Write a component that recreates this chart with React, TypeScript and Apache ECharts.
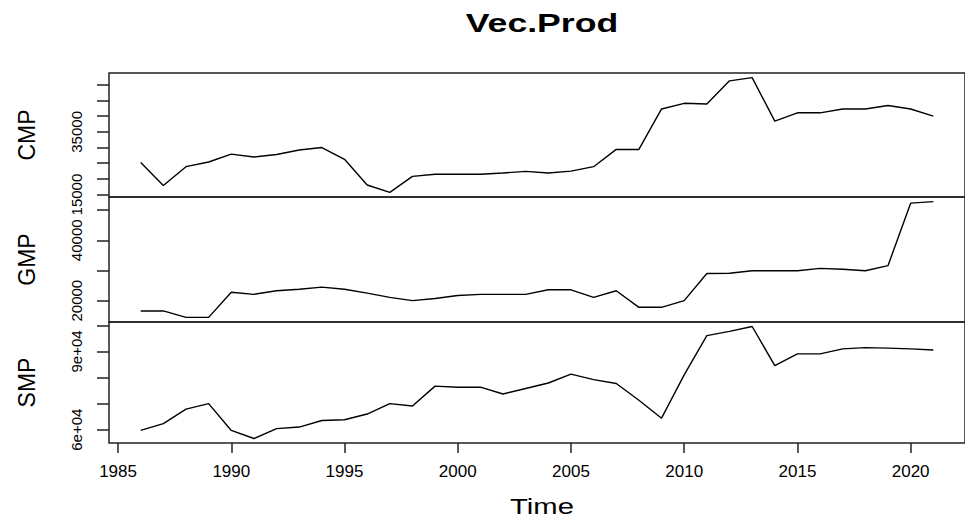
import React, { useEffect, useRef } from "react";
import * as echarts from "echarts";

const years = [1986, 1987, 1988, 1989, 1990, 1991, 1992, 1993, 1994, 1995, 1996, 1997, 1998, 1999, 2000, 2001, 2002, 2003, 2004, 2005, 2006, 2007, 2008, 2009, 2010, 2011, 2012, 2013, 2014, 2015, 2016, 2017, 2018, 2019, 2020, 2021];

const cmp = [25200, 17900, 23900, 25400, 27900, 27000, 27800, 29200, 30000, 26250, 18050, 15700, 20800, 21500, 21500, 21500, 21900, 22400, 21900, 22500, 23900, 29400, 29400, 42300, 44100, 43900, 51260, 52300, 38400, 41070, 41070, 42300, 42300, 43400, 42300, 40000];

const gmp = [16600, 16600, 14470, 14470, 22800, 22100, 23300, 23800, 24500, 23800, 22500, 21100, 20000, 20700, 21700, 22100, 22100, 22100, 23600, 23600, 21100, 23300, 17800, 17800, 20000, 29000, 29100, 29900, 29900, 29900, 30700, 30400, 29900, 31600, 52300, 52800];

const smp = [59700, 62300, 67900, 70000, 59700, 56600, 60400, 61000, 63500, 63800, 66000, 70000, 69100, 76700, 76300, 76300, 73700, 75800, 77900, 81300, 79200, 77700, 71300, 64400, 81000, 96100, 97700, 99600, 84600, 89100, 89100, 91000, 91500, 91300, 91000, 90600];

const xTicks = [1985, 1990, 1995, 2000, 2005, 2010, 2015, 2020];

const cmpTicks = [15000, 20000, 25000, 30000, 35000, 40000, 45000, 50000];
const cmpLabelValues = [15000, 35000];
const cmpLabelTexts = ["15000", "35000"];

const gmpTicks = [20000, 30000, 40000, 50000];
const gmpLabelValues = [20000, 40000];
const gmpLabelTexts = ["20000", "40000"];

const smpTicks = [60000, 70000, 80000, 90000, 100000];
const smpLabelValues = [60000, 90000];
const smpLabelTexts = ["6e+04", "9e+04"];

const FONT = '"Liberation Sans", Arial, sans-serif';

function expand(vals: number[]) {
  const lo = Math.min(...vals);
  const hi = Math.max(...vals);
  const pad = (hi - lo) * 0.04;
  return { min: lo - pad, max: hi + pad };
}

export default function App() {
  const ref = useRef<HTMLDivElement>(null);
  useEffect(() => {
    if (!ref.current) return;
    const chart = echarts.init(ref.current, null, { renderer: "svg" });
    const xr = expand(years);
    const panels = [
      { name: "CMP", data: cmp, ticks: cmpTicks, lv: cmpLabelValues, lt: cmpLabelTexts, top: 73, height: 124 },
      { name: "GMP", data: gmp, ticks: gmpTicks, lv: gmpLabelValues, lt: gmpLabelTexts, top: 197, height: 125 },
      { name: "SMP", data: smp, ticks: smpTicks, lv: smpLabelValues, lt: smpLabelTexts, top: 322, height: 121 },
    ];
    const option: any = {
      animation: false,
      backgroundColor: "#fff",
      grid: panels.map((p) => ({
        left: 109,
        width: 866,
        top: p.top,
        height: p.height,
        show: true,
        borderColor: "#222",
        borderWidth: 1.5,
        backgroundColor: "transparent",
      })),
      xAxis: panels.map((p, i) => ({
        type: "value",
        gridIndex: i,
        min: xr.min,
        max: xr.max,
        show: i === 2,
        axisLine: { show: false },
        splitLine: { show: false },
        axisTick: {
          show: true,
          length: 10,
          customValues: xTicks,
          lineStyle: { color: "#222", width: 1.5 },
        },
        axisLabel: {
          customValues: xTicks,
          margin: 20,
          color: "#000",
          fontSize: 17,
          fontFamily: FONT,
          formatter: (v: number) => String(v),
        },
      })),
      yAxis: panels.map((p, i) => {
        const r = expand(p.data);
        return {
          type: "value",
          gridIndex: i,
          min: r.min,
          max: r.max,
          name: p.name,
          nameLocation: "middle",
          nameRotate: 90,
          nameGap: 71,
          nameTextStyle: { color: "#000", fontSize: 23, fontFamily: FONT },
          axisLine: { show: false },
          splitLine: { show: false },
          axisTick: {
            show: true,
            length: 12,
            customValues: p.ticks,
            lineStyle: { color: "#222", width: 1.5 },
          },
          axisLabel: {
            customValues: p.lv,
            rotate: 90,
            margin: 25,
            color: "#000",
            fontSize: 15,
            fontFamily: FONT,
            formatter: (v: number) => {
              const k = p.lv.indexOf(v);
              return k >= 0 ? p.lt[k] : "";
            },
          },
        };
      }),
      series: panels.map((p, i) => ({
        type: "line",
        xAxisIndex: i,
        yAxisIndex: i,
        data: years.map((y, k) => [y, p.data[k]]),
        symbol: "none",
        lineStyle: { color: "#000", width: 1.4 },
        silent: true,
      })),
      graphic: [
        {
          type: "text",
          x: 542,
          y: 23,
          scaleX: 1.37,
          style: {
            text: "Vec.Prod",
            font: `bold 26px ${FONT}`,
            fill: "#000",
            textAlign: "center",
            textVerticalAlign: "middle",
          },
        },
        {
          type: "text",
          x: 542,
          y: 506,
          scaleX: 1.33,
          style: {
            text: "Time",
            font: `22px ${FONT}`,
            fill: "#000",
            textAlign: "center",
            textVerticalAlign: "middle",
          },
        },
      ],
    };
    chart.setOption(option);
    return () => chart.dispose();
  }, []);
  return (
    <div
      ref={ref}
      style={{ position: "fixed", left: 0, top: 0, width: 965, height: 521, background: "#fff" }}
    />
  );
}
